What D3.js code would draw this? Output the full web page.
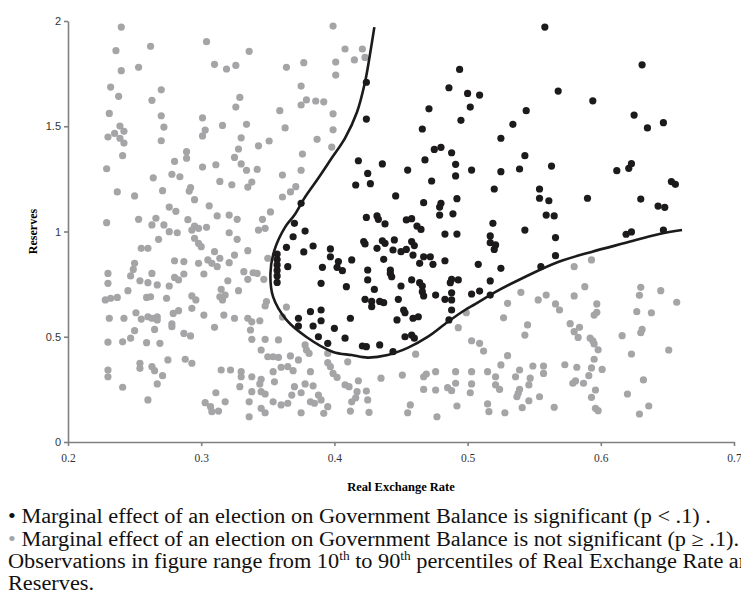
<!DOCTYPE html>
<html>
<head>
<meta charset="utf-8">
<script src="https://cdn.jsdelivr.net/npm/d3@7"></script>
<style>
  body { margin: 0; background: #fff; }
</style>
</head>
<body>
<svg id="chart" width="741" height="606"></svg>
<script>
// tick values
var xTicks = [0.2, 0.3, 0.4, 0.5, 0.6, 0.7];
var yTicks = [0, 0.5, 1, 1.5, 2];

// [real exchange rate, reserves] where the election effect is significant
var significant = [
  [0.424,1.709],[0.424,1.534],[0.494,1.770],[0.486,1.683],[0.500,1.656],[0.502,1.591],[0.495,1.528],
  [0.471,1.583],[0.466,1.487],[0.418,1.336],[0.436,1.321],[0.425,1.276],[0.416,1.221],[0.427,1.227],
  [0.475,1.390],[0.480,1.400],[0.488,1.374],[0.468,1.340],[0.455,1.292],[0.491,1.319],[0.503,1.292],
  [0.473,1.240],[0.491,1.264],[0.446,1.169],[0.492,1.156],
  [0.558,1.971],[0.631,1.792],[0.509,1.648],[0.568,1.667],[0.594,1.621],[0.544,1.574],[0.534,1.509],
  [0.525,1.443],[0.625,1.553],[0.635,1.492],[0.647,1.517],[0.543,1.360],[0.563,1.311],[0.539,1.297],
  [0.525,1.284],[0.520,1.202],[0.554,1.202],[0.554,1.158],[0.561,1.146],[0.559,1.078],[0.565,1.074],
  [0.590,1.158],[0.612,1.289],[0.621,1.300],[0.623,1.322],[0.630,1.154],[0.643,1.121],[0.648,1.115],
  [0.653,1.237],[0.656,1.224],
  [0.375,1.134],[0.467,1.137],[0.480,1.134],[0.479,1.116],[0.489,1.084],[0.479,1.078],[0.424,1.067],
  [0.432,1.074],[0.433,1.058],[0.454,1.055],[0.458,1.061],
  [0.357,0.893],[0.357,0.867],[0.357,0.841],[0.357,0.815],[0.357,0.789],[0.357,0.758],
  [0.370,1.039],[0.378,1.002],[0.369,0.975],[0.384,0.931],[0.364,0.925],[0.377,0.903],[0.365,0.833],
  [0.397,0.917],[0.397,0.880],[0.403,0.857],[0.391,0.830],[0.406,0.814],[0.390,0.754],[0.409,0.738],
  [0.413,0.865],[0.422,0.952],[0.423,0.941],[0.432,0.920],[0.436,0.956],[0.438,0.944],[0.437,0.868],
  [0.442,0.817],[0.442,0.801],[0.443,0.785],[0.425,0.817],[0.425,0.770],[0.430,0.725],[0.423,0.678],
  [0.428,0.668],[0.428,0.643],[0.434,0.668],[0.437,0.662],[0.448,0.678],[0.450,0.741],[0.458,0.770],
  [0.464,0.757],[0.466,0.741],[0.466,0.714],[0.467,0.694],[0.476,0.698],[0.483,0.678],[0.488,0.675],
  [0.488,0.709],[0.488,0.773],[0.487,0.757],[0.493,0.770],[0.503,0.703],[0.483,0.861],[0.474,0.844],
  [0.467,0.880],[0.472,0.880],[0.464,0.849],[0.459,0.888],[0.454,0.915],[0.450,0.904],[0.462,1.026],
  [0.465,1.010],[0.438,1.036],[0.483,0.988],[0.492,0.988],[0.452,0.627],[0.453,0.614],[0.459,0.588],
  [0.463,0.595],[0.447,0.580],[0.453,0.500],[0.458,0.508],[0.460,0.493],[0.444,0.429],[0.434,0.461],
  [0.424,0.453],[0.421,0.456],[0.412,0.588],[0.408,0.493],[0.400,0.540],[0.390,0.576],[0.388,0.500],
  [0.384,0.551],[0.390,0.627],[0.382,0.619],[0.373,0.588],[0.373,0.551],[0.395,0.469],[0.488,0.627],
  [0.486,0.580],[0.445,0.960],[0.444,0.912],[0.458,0.952],[0.460,0.933],[0.402,0.830],
  [0.519,1.039],[0.543,1.007],[0.566,0.971],[0.566,0.885],[0.517,0.979],[0.517,0.947],[0.521,0.936],
  [0.520,0.915],[0.508,0.844],[0.525,0.825],[0.555,0.833],[0.517,0.765],[0.509,0.717],[0.517,0.698],
  [0.619,0.987],[0.623,0.998],[0.647,1.007]
];

// [real exchange rate, reserves] where the election effect is not significant
var notSignificant = [
  [0.240,1.971],[0.304,1.902],[0.236,1.859],[0.262,1.880],[0.336,1.856],[0.253,1.780],[0.240,1.764],
  [0.310,1.794],[0.319,1.772],[0.326,1.789],[0.232,1.686],[0.270,1.673],[0.238,1.642],[0.263,1.623],
  [0.329,1.637],[0.326,1.591],[0.359,1.574],[0.231,1.561],[0.270,1.550],[0.301,1.540],[0.272,1.496],
  [0.239,1.501],[0.242,1.476],[0.235,1.466],[0.230,1.449],[0.239,1.443],[0.242,1.420],[0.303,1.482],
  [0.301,1.454],[0.316,1.504],[0.334,1.509],[0.363,1.492],[0.270,1.431],[0.330,1.445],[0.343,1.407],
  [0.351,1.430],[0.241,1.360],[0.289,1.379],[0.289,1.348],[0.280,1.333],[0.328,1.392],[0.325,1.352],
  [0.330,1.321],[0.229,1.298],[0.301,1.306],[0.311,1.317],[0.334,1.291],[0.342,1.295],[0.264,1.255],
  [0.278,1.272],[0.284,1.260],[0.314,1.238],[0.323,1.222],[0.338,1.235],[0.335,1.211],[0.361,1.268],
  [0.237,1.188],[0.250,1.169],[0.271,1.194],[0.292,1.208],[0.291,1.192],[0.295,1.151],[0.361,1.164],
  [0.276,1.116],[0.281,1.096],[0.306,1.122],[0.352,1.093],[0.253,1.058],[0.266,1.063],[0.290,1.056],
  [0.312,1.074],[0.321,1.078],[0.327,1.058],[0.346,1.058],
  [0.399,1.976],[0.408,1.867],[0.421,1.867],[0.415,1.815],[0.423,1.827],[0.364,1.780],[0.377,1.802],
  [0.401,1.805],[0.401,1.743],[0.375,1.691],[0.379,1.625],[0.375,1.601],[0.386,1.620],[0.392,1.616],
  [0.399,1.559],[0.399,1.483],[0.387,1.438],[0.398,1.401],[0.376,1.368],[0.375,1.291],[0.371,1.213],
  [0.367,1.188],
  [0.229,1.042],[0.263,1.031],[0.272,1.031],[0.276,0.999],[0.282,0.994],[0.295,1.026],[0.298,1.015],
  [0.304,1.020],[0.293,1.007],[0.321,0.994],[0.343,1.007],[0.348,1.015],[0.295,0.968],[0.298,0.944],
  [0.300,0.928],[0.268,0.963],[0.255,0.920],[0.260,0.920],[0.327,0.963],[0.335,0.909],[0.310,0.904],
  [0.280,0.861],[0.287,0.857],[0.298,0.849],[0.305,0.865],[0.308,0.849],[0.314,0.873],[0.312,0.833],
  [0.321,0.852],[0.325,0.888],[0.250,0.849],[0.249,0.820],[0.230,0.801],[0.230,0.754],[0.247,0.789],
  [0.254,0.766],[0.260,0.757],[0.267,0.746],[0.263,0.801],[0.280,0.782],[0.283,0.770],[0.287,0.798],
  [0.302,0.798],[0.320,0.766],[0.332,0.809],[0.339,0.804],[0.342,0.801],[0.335,0.773],[0.347,0.773],
  [0.228,0.675],[0.232,0.683],[0.237,0.687],[0.245,0.719],[0.259,0.687],[0.262,0.690],[0.276,0.741],
  [0.274,0.683],[0.293,0.694],[0.296,0.675],[0.315,0.725],[0.314,0.690],[0.316,0.675],[0.318,0.698],
  [0.328,0.719],[0.349,0.667],[0.348,0.646],[0.293,0.635],[0.231,0.588],[0.242,0.588],[0.251,0.614],
  [0.255,0.584],[0.260,0.595],[0.263,0.588],[0.267,0.595],[0.267,0.580],[0.279,0.611],[0.283,0.624],
  [0.278,0.561],[0.278,0.548],[0.302,0.603],[0.317,0.603],[0.325,0.588],[0.335,0.588],[0.338,0.571],
  [0.344,0.576],[0.310,0.545],[0.265,0.535],[0.250,0.529],[0.230,0.474],[0.241,0.476],[0.247,0.493],
  [0.259,0.472],[0.269,0.469],[0.287,0.516],[0.292,0.504],[0.337,0.532],[0.338,0.488],[0.348,0.488],
  [0.358,0.485],[0.275,0.390],[0.288,0.393],[0.293,0.374],[0.230,0.342],[0.230,0.310],[0.254,0.374],
  [0.254,0.350],[0.263,0.358],[0.265,0.339],[0.271,0.315],[0.267,0.276],[0.241,0.260],[0.260,0.200],
  [0.315,0.342],[0.322,0.342],[0.330,0.334],[0.330,0.310],[0.338,0.310],[0.345,0.298],[0.344,0.276],
  [0.345,0.239],[0.348,0.228],[0.355,0.286],[0.354,0.334],[0.360,0.355],[0.345,0.437],[0.350,0.405],
  [0.354,0.405],[0.358,0.402],[0.329,0.263],[0.311,0.234],[0.318,0.191],[0.303,0.187],[0.307,0.168],
  [0.308,0.144],[0.313,0.147],[0.336,0.191],[0.338,0.239],[0.345,0.160],[0.348,0.139],[0.354,0.191],
  [0.360,0.176],[0.336,0.120],[0.361,0.594],[0.364,0.641],[0.350,0.873],
  [0.367,0.409],[0.378,0.461],[0.379,0.437],[0.381,0.421],[0.373,0.390],[0.365,0.358],[0.369,0.339],
  [0.382,0.334],[0.395,0.377],[0.397,0.358],[0.399,0.326],[0.402,0.307],[0.410,0.381],[0.395,0.421],
  [0.418,0.291],[0.408,0.271],[0.411,0.263],[0.378,0.276],[0.384,0.267],[0.370,0.263],[0.375,0.234],
  [0.368,0.223],[0.388,0.223],[0.390,0.200],[0.382,0.191],[0.385,0.184],[0.395,0.168],[0.392,0.136],
  [0.375,0.139],[0.365,0.184],[0.424,0.242],[0.425,0.200],[0.416,0.210],[0.412,0.147],[0.426,0.141],
  [0.435,0.303],[0.451,0.318],[0.467,0.310],[0.469,0.323],[0.476,0.334],[0.467,0.250],[0.476,0.247],
  [0.485,0.258],[0.488,0.244],[0.491,0.334],[0.491,0.279],[0.492,0.171],[0.503,0.334],[0.503,0.276],
  [0.502,0.234],[0.457,0.176],[0.455,0.139],[0.477,0.120],[0.461,0.417],[0.499,0.614],[0.493,0.543],
  [0.503,0.481],[0.417,0.239],[0.413,0.191],
  [0.593,0.865],[0.580,0.833],[0.540,0.711],[0.559,0.698],[0.553,0.675],[0.588,0.738],[0.580,0.694],
  [0.630,0.735],[0.645,0.719],[0.629,0.697],[0.530,0.659],[0.566,0.656],[0.569,0.627],[0.597,0.656],
  [0.597,0.616],[0.595,0.603],[0.627,0.619],[0.638,0.614],[0.527,0.590],[0.545,0.556],[0.543,0.508],
  [0.577,0.562],[0.584,0.545],[0.580,0.524],[0.583,0.497],[0.631,0.535],[0.630,0.519],[0.616,0.505],
  [0.592,0.493],[0.594,0.481],[0.595,0.466],[0.509,0.469],[0.512,0.432],[0.598,0.438],[0.623,0.418],
  [0.530,0.410],[0.595,0.393],[0.525,0.366],[0.549,0.361],[0.557,0.361],[0.557,0.326],[0.573,0.367],
  [0.582,0.355],[0.593,0.352],[0.601,0.345],[0.515,0.334],[0.539,0.342],[0.536,0.310],[0.521,0.310],
  [0.521,0.271],[0.547,0.303],[0.546,0.271],[0.591,0.315],[0.581,0.290],[0.579,0.279],[0.587,0.279],
  [0.632,0.295],[0.539,0.250],[0.538,0.231],[0.537,0.215],[0.524,0.250],[0.596,0.247],[0.620,0.228],
  [0.554,0.215],[0.593,0.212],[0.546,0.196],[0.515,0.181],[0.516,0.144],[0.541,0.163],[0.565,0.165],
  [0.596,0.160],[0.598,0.149],[0.528,0.139],[0.636,0.171],[0.629,0.133],[0.657,0.664],[0.651,0.437]
];

// boundary of the significance region
var boundary = [
  [0.430,1.971],[0.427,1.853],[0.423,1.710],[0.417,1.568],[0.408,1.444],[0.398,1.349],[0.388,1.254],
  [0.378,1.164],[0.370,1.078],[0.363,1.021],[0.355,0.912],[0.352,0.803],[0.354,0.689],[0.364,0.580],
  [0.379,0.499],[0.399,0.428],[0.413,0.413],[0.425,0.401],[0.440,0.413],[0.455,0.447],[0.470,0.499],
  [0.485,0.570],[0.498,0.627],[0.506,0.656],[0.521,0.713],[0.543,0.784],[0.568,0.855],[0.593,0.903],
  [0.618,0.945],[0.644,0.988],[0.661,1.007]
];

var margin = { top: 21, right: 7, bottom: 164, left: 68 };
var width = 741 - margin.left - margin.right;
var height = 606 - margin.top - margin.bottom;

var svg = d3.select("#chart");
var g = svg.append("g")
  .attr("transform", "translate(" + margin.left + "," + margin.top + ")");

var xScale = d3.scaleLinear().domain([0.2, 0.7]).range([0, width]);
var yScale = d3.scaleLinear().domain([0, 2]).range([height, 0]);

// axes
var xAxis = g.append("g")
  .attr("transform", "translate(0," + height + ")")
  .call(d3.axisBottom(xScale).tickValues(xTicks).tickSize(4).tickSizeOuter(0).tickFormat(String));
xAxis.selectAll("text")
  .attr("font-family", "'Liberation Serif', 'Times New Roman', serif")
  .attr("font-size", 11.5)
  .attr("fill", "#333")
  .attr("dy", "1.1em");

var yAxis = g.append("g")
  .call(d3.axisLeft(yScale).tickValues(yTicks).tickSize(4).tickSizeOuter(0).tickFormat(String));
yAxis.selectAll("text")
  .attr("font-family", "'Liberation Sans', Arial, sans-serif")
  .attr("font-size", 11)
  .attr("fill", "#333");

svg.selectAll(".domain, .tick line")
  .attr("stroke", "#808080")
  .attr("stroke-width", 1.6);

// points
g.selectAll(".ns")
  .data(notSignificant)
  .enter()
  .append("circle")
  .attr("class", "ns")
  .attr("cx", function(d) { return xScale(d[0]); })
  .attr("cy", function(d) { return yScale(d[1]); })
  .attr("r", 3.6)
  .attr("fill", "#a5a5a7");

g.selectAll(".sig")
  .data(significant)
  .enter()
  .append("circle")
  .attr("class", "sig")
  .attr("cx", function(d) { return xScale(d[0]); })
  .attr("cy", function(d) { return yScale(d[1]); })
  .attr("r", 3.6)
  .attr("fill", "#1c1a1b");

// boundary curve
var line = d3.line()
  .x(function(d) { return xScale(d[0]); })
  .y(function(d) { return yScale(d[1]); })
  .curve(d3.curveCatmullRom);

g.append("path")
  .datum(boundary)
  .attr("d", line)
  .attr("fill", "none")
  .attr("stroke", "#1c1a1b")
  .attr("stroke-width", 2.6);

// axis titles
svg.append("text")
  .attr("transform", "translate(37," + (margin.top + yScale(1)) + ") rotate(-90)")
  .attr("text-anchor", "middle")
  .attr("font-family", "'Liberation Serif', 'Times New Roman', serif")
  .attr("font-weight", "bold")
  .attr("font-size", 12)
  .text("Reserves");

svg.append("text")
  .attr("x", margin.left + width / 2)
  .attr("y", 491)
  .attr("text-anchor", "middle")
  .attr("font-family", "'Liberation Serif', 'Times New Roman', serif")
  .attr("font-weight", "bold")
  .attr("font-size", 12.5)
  .text("Real Exchange Rate");

// notes under the chart (the source text is set a little wider than the font)
var notes = svg.append("g")
  .attr("transform", "translate(8,0) scale(1.115,1)")
  .attr("font-family", "'Liberation Serif', 'Times New Roman', serif")
  .attr("font-size", 20)
  .attr("fill", "#111");

var l1 = notes.append("text").attr("x", 0).attr("y", 523);
l1.append("tspan").text("\u2022 ");
l1.append("tspan").text("Marginal effect of an election on Government Balance is significant (p < .1) .");

var l2 = notes.append("text").attr("x", 0).attr("y", 546);
l2.append("tspan").attr("fill", "#a5a5a7").text("\u2022 ");
l2.append("tspan").text("Marginal effect of an election on Government Balance is not significant (p \u2265 .1).");

var l3 = notes.append("text").attr("x", 0).attr("y", 568);
l3.append("tspan").text("Observations in figure range from 10");
l3.append("tspan").attr("font-size", 12).attr("dy", -8).text("th");
l3.append("tspan").attr("dy", 8).text(" to 90");
l3.append("tspan").attr("font-size", 12).attr("dy", -8).text("th");
l3.append("tspan").attr("dy", 8).text(" percentiles of Real Exchange Rate and");

notes.append("text").attr("x", 0).attr("y", 590).text("Reserves.");
</script>
</body>
</html>
